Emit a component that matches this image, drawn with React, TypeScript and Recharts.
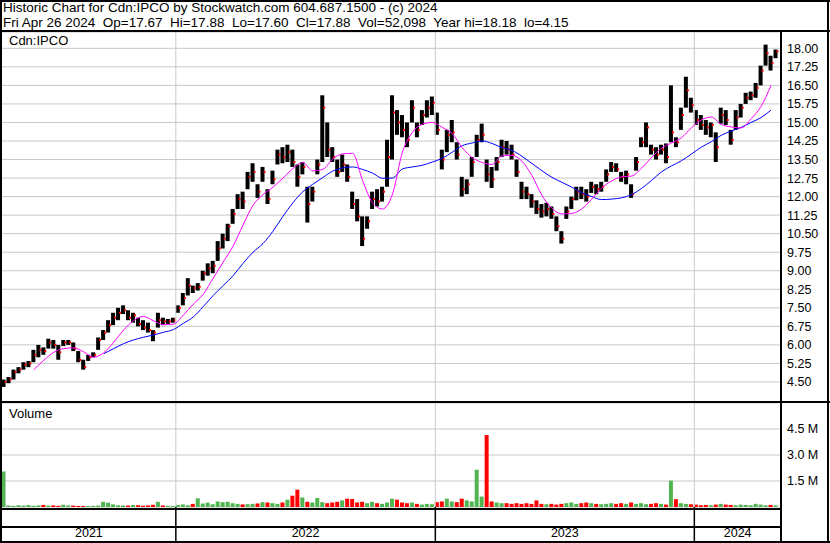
import React from "react";
import { ComposedChart, Bar, Line, XAxis, YAxis, CartesianGrid, ReferenceLine, Cell } from "recharts";

// weekly samples (week 0 = end of April 2021)
const years = ["2021", "2022", "2023", "2024"];
const yearStarts = [34.5, 86.6, 138.6];
const weekDomain: [number, number] = [-0.4, 156];

const hi21 = [4.6, 4.7, 5.0, 5.1, 5.3, 5.35, 5.8, 6.0, 5.9, 6.25, 6.2, 6.0, 6.2, 6.2, 6.1, 5.75, 5.4, 5.6, 5.7, 6.3, 6.6, 7.0, 7.3, 7.5, 7.6, 7.4, 7.3, 7.1, 7.0, 6.9, 6.6, 7.3, 7.1, 7.05, 7.1];
const lo21 = [4.3, 4.45, 4.6, 4.85, 5.0, 5.1, 5.3, 5.5, 5.6, 5.85, 5.85, 5.4, 5.95, 6.0, 5.75, 5.3, 5.0, 5.35, 5.5, 5.8, 6.2, 6.5, 6.8, 7.0, 7.25, 7.0, 6.9, 6.75, 6.6, 6.5, 6.15, 6.7, 6.8, 6.85, 6.9];
const cl21 = [4.5, 4.6, 4.9, 5.0, 5.2, 5.25, 5.6, 5.8, 5.75, 6.1, 6.0, 5.7, 6.1, 6.1, 5.85, 5.4, 5.1, 5.5, 5.6, 6.2, 6.5, 6.8, 7.1, 7.3, 7.4, 7.1, 7.2, 6.85, 6.7, 6.6, 6.5, 7.0, 6.95, 6.95, 7.0];

const hi22 = [7.6, 8.1, 8.7, 8.4, 8.5, 9.0, 9.3, 9.4, 10.2, 10.5, 10.9, 11.5, 12.1, 12.2, 13.0, 13.35, 12.5, 13.2, 12.3, 13.05, 13.9, 14.0, 14.1, 13.9, 13.3, 13.4, 12.4, 12.4, 13.5, 16.1, 15.0, 14.0, 13.5, 13.7, 13.3, 12.2, 11.9, 11.2, 11.2, 12.2, 12.3, 12.4, 14.3, 16.1, 15.5, 15.3, 15.0, 15.9, 15.0, 15.5, 15.9, 16.05];
const lo22 = [7.3, 7.6, 8.0, 8.1, 8.2, 8.6, 8.8, 8.9, 9.4, 9.9, 10.2, 10.9, 11.5, 11.5, 12.3, 12.6, 11.95, 12.6, 11.7, 12.5, 13.3, 13.35, 13.4, 13.2, 12.4, 12.9, 10.95, 11.8, 12.9, 13.4, 13.6, 13.4, 12.8, 13.0, 12.6, 11.5, 11.0, 10.0, 10.7, 11.5, 11.6, 11.8, 12.4, 13.5, 14.5, 14.4, 14.0, 15.0, 14.4, 14.9, 15.2, 15.3];
const cl22 = [7.5, 7.9, 8.4, 8.3, 8.35, 8.9, 9.1, 9.2, 9.9, 10.3, 10.8, 11.3, 11.9, 11.8, 12.8, 13.0, 12.2, 13.0, 11.9, 12.7, 13.7, 13.6, 13.8, 13.4, 12.8, 13.2, 11.7, 12.2, 13.3, 15.6, 13.9, 13.6, 13.0, 13.3, 12.8, 11.7, 11.2, 10.3, 11.0, 11.9, 11.8, 12.2, 13.6, 15.4, 15.0, 14.7, 14.3, 15.6, 14.7, 15.3, 15.6, 15.8];

const hi23 = [15.4, 13.9, 14.7, 15.1, 14.2, 12.8, 12.7, 13.6, 14.5, 14.95, 13.5, 13.2, 13.6, 14.3, 14.25, 14.1, 13.5, 12.6, 12.4, 12.1, 11.85, 11.7, 11.75, 11.6, 11.2, 10.6, 11.6, 12.0, 12.4, 12.4, 12.3, 12.6, 12.5, 12.6, 13.1, 13.4, 13.35, 13.0, 13.05, 12.5, 13.6, 14.4, 15.0, 14.1, 14.0, 14.1, 14.15, 16.5, 14.4, 15.6, 16.85, 16.0];
const lo23 = [14.5, 13.1, 13.8, 14.2, 13.5, 12.0, 12.1, 12.8, 13.6, 14.2, 12.6, 12.35, 13.05, 13.6, 13.7, 13.5, 12.8, 11.9, 11.9, 11.55, 11.3, 11.15, 11.2, 11.1, 10.6, 10.1, 11.1, 11.5, 11.85, 11.9, 11.8, 12.15, 12.1, 12.2, 12.6, 13.0, 13.0, 12.6, 12.5, 11.95, 13.05, 14.0, 14.0, 13.7, 13.5, 13.7, 13.35, 14.2, 14.0, 14.7, 15.6, 15.4];
const cl23 = [14.7, 13.5, 14.5, 14.6, 13.7, 12.3, 12.5, 13.4, 14.3, 14.5, 12.9, 12.7, 13.4, 14.0, 13.9, 13.7, 13.0, 12.2, 12.1, 11.8, 11.5, 11.4, 11.5, 11.3, 10.8, 10.3, 11.4, 11.9, 12.2, 12.1, 12.0, 12.4, 12.3, 12.4, 12.9, 13.2, 13.1, 12.8, 12.9, 12.1, 13.4, 14.2, 14.8, 13.9, 13.7, 13.9, 13.6, 14.6, 14.2, 15.3, 16.3, 15.7];

const hi24 = [15.5, 15.3, 15.1, 15.0, 14.6, 15.6, 15.5, 14.7, 15.5, 15.75, 16.2, 16.25, 16.6, 17.3, 18.15, 17.7, 17.95];
const lo24 = [14.9, 14.7, 14.5, 14.4, 13.4, 14.95, 14.9, 14.1, 14.7, 15.2, 15.75, 15.9, 16.0, 16.5, 17.3, 17.1, 17.6];
const cl24 = [15.1, 14.9, 14.8, 14.9, 14.0, 15.3, 15.1, 14.3, 15.2, 15.6, 16.0, 16.1, 16.4, 17.1, 17.8, 17.4, 17.88];

// volume, thousands of shares
const vol21 = [2050, 90, 70, 100, 80, 110, 70, 90, 120, 80, 90, 70, 130, 90, 80, 60, 60, 60, 70, 80, 300, 250, 150, 100, 90, 80, 120, 100, 70, 90, 130, 300, 90, 70, 60];
const vol22 = [120, 150, 100, 180, 500, 200, 250, 160, 320, 280, 300, 220, 180, 150, 160, 180, 200, 280, 260, 220, 180, 260, 420, 650, 1000, 550, 300, 260, 520, 280, 220, 260, 300, 380, 480, 460, 260, 300, 220, 300, 220, 180, 260, 480, 420, 260, 220, 260, 180, 140, 180, 160];
const vol23 = [280, 320, 480, 320, 280, 480, 380, 320, 2150, 600, 4150, 320, 260, 220, 220, 180, 220, 180, 220, 180, 380, 180, 160, 180, 140, 180, 220, 260, 180, 220, 260, 220, 180, 160, 180, 220, 180, 220, 180, 260, 180, 220, 160, 180, 220, 180, 140, 1520, 450, 220, 180, 160];
const vol24 = [140, 100, 120, 100, 140, 180, 140, 120, 100, 140, 120, 100, 180, 140, 100, 120, 90];

// moving averages, one reading every 2 weeks
const maFastFrom = 6;
const maFast = [5.0, 5.38, 5.7, 5.85, 5.88, 5.72, 5.5, 5.68, 6.1, 6.6, 6.98, 7.15, 6.98, 6.82, 6.84, 7.2, 7.65, 8.05, 8.7, 9.35, 10.0, 10.85, 11.65, 12.08, 12.38, 12.75, 13.13, 13.38, 13.04, 13.1, 13.52, 13.73, 13.75, 12.65, 11.75, 11.5, 12.1, 13.8, 14.6, 14.93, 15.0, 14.8, 14.55, 13.98, 13.58, 13.38, 13.3, 13.65, 13.67, 13.43, 12.85, 12.05, 11.53, 11.3, 11.32, 11.5, 11.9, 12.35, 12.63, 12.8, 12.83, 13.15, 13.58, 13.96, 14.17, 14.38, 14.78, 15.1, 15.22, 14.92, 14.82, 14.78, 15.15, 15.65, 16.5];
const maSlowFrom = 20;
const maSlow = [5.64, 5.85, 6.05, 6.2, 6.31, 6.4, 6.51, 6.62, 6.87, 7.13, 7.55, 8.0, 8.4, 8.8, 9.3, 9.75, 10.1, 10.6, 11.2, 11.75, 12.2, 12.5, 12.77, 13.03, 13.16, 13.2, 13.1, 12.95, 12.74, 12.75, 13.12, 13.2, 13.27, 13.4, 13.55, 13.8, 14.06, 14.17, 14.25, 14.15, 13.98, 13.87, 13.63, 13.34, 13.05, 12.78, 12.58, 12.38, 12.16, 12.0, 11.88, 11.9, 11.95, 12.08, 12.33, 12.65, 13.0, 13.24, 13.45, 13.72, 14.0, 14.22, 14.48, 14.65, 14.8, 15.0, 15.2, 15.5];

const priceTicks = [4.5, 5.25, 6, 6.75, 7.5, 8.25, 9, 9.75, 10.5, 11.25, 12, 12.75, 13.5, 14.25, 15, 15.75, 16.5, 17.25, 18];
const volTicks = [1500000, 3000000, 4500000];

const hi = [...hi21, ...hi22, ...hi23, ...hi24];
const lo = [...lo21, ...lo22, ...lo23, ...lo24];
const cl = [...cl21, ...cl22, ...cl23, ...cl24];
const vol = [...vol21, ...vol22, ...vol23, ...vol24];

const pick = (arr: number[], from: number, i: number) =>
  i >= from && (i - from) % 2 === 0 && (i - from) / 2 < arr.length ? arr[(i - from) / 2] : null;

const rows = hi.map((h, i) => ({
  i,
  range: [lo[i], h],
  hi: h,
  lo: lo[i],
  cl: cl[i],
  vol: vol[i] * 1000,
  up: i === 0 || cl[i] >= cl[i - 1],
  fast: pick(maFast, maFastFrom, i),
  slow: pick(maSlow, maSlowFrom, i),
}));

const yearMids = [weekDomain[0], ...yearStarts].map((s, k, a) => {
  const e = k < a.length - 1 ? a[k + 1] : weekDomain[1];
  return (s + e) / 2;
});

const FONT = '"Liberation Sans", Arial, sans-serif';
const GRID = "#c8c8c8";

function PriceBar(props: any) {
  const { x, y, width, height, payload } = props;
  const top = height < 0 ? y + height : y;
  const h = Math.max(Math.abs(height), 1);
  const cx = x + width / 2;
  const span = payload.hi - payload.lo || 1;
  const cy = top + ((payload.hi - payload.cl) / span) * h;
  return (
    <g>
      <rect x={cx - 2} y={top} width={4} height={h} fill="#000" />
      <rect x={cx + 1} y={cy - 1} width={2} height={2} fill="#ff0000" />
    </g>
  );
}

function YearTick(props: any) {
  const { x, y, payload } = props;
  const v = payload.value;
  if (yearStarts.indexOf(v) >= 0) {
    return <rect x={x - 0.75} y={y} width={1.5} height={34} fill="#000" />;
  }
  const k = yearMids.indexOf(v);
  return (
    <text x={x} y={y + 30} textAnchor="middle" fontSize={12.5} fontFamily={FONT} fill="#000">
      {years[k]}
    </text>
  );
}

const line = (left: number, top: number, width: number, height: number) => (
  <div style={{ position: "absolute", left, top, width, height, background: "#000" }} />
);

const textStyle: React.CSSProperties = { position: "absolute", fontSize: 13, lineHeight: "14px", color: "#000", whiteSpace: "pre" };
const tickStyle = { fontSize: 12.5, fill: "#000", fontFamily: FONT, textAnchor: "start" };

export default function App() {
  return (
    <div style={{ position: "absolute", left: 0, top: 0, width: 830, height: 543, background: "#fff", fontFamily: FONT, overflow: "hidden" }}>
      <div style={{ ...textStyle, fontSize: 13.5, left: 3, top: 1 }}>Historic Chart for Cdn:IPCO by Stockwatch.com 604.687.1500 - (c) 2024</div>
      <div style={{ ...textStyle, fontSize: 13.5, left: 3, top: 15.5 }}>
        {"Fri Apr 26 2024  Op=17.67  Hi=17.88  Lo=17.60  Cl=17.88  Vol=52,098  Year hi=18.18  lo=4.15"}
      </div>

      <div style={{ position: "absolute", left: 0, top: 32 }}>
        <ComposedChart width={830} height={370} data={rows} margin={{ top: 0, right: 0, bottom: 0, left: 2 }}>
          <CartesianGrid vertical={false} stroke={GRID} />
          <XAxis type="number" dataKey="i" domain={weekDomain} hide allowDataOverflow />
          <YAxis
            orientation="right"
            domain={[3.69, 18.66]}
            ticks={priceTicks}
            interval={0}
            width={49}
            axisLine={false}
            tickLine={false}
            tickSize={4}
            tickMargin={2}
            allowDataOverflow
            tickFormatter={(v: number) => v.toFixed(2)}
            tick={tickStyle}
          />
          {yearStarts.map((s) => (
            <ReferenceLine key={s} x={s} stroke={GRID} />
          ))}
          <Bar dataKey="range" barSize={4} shape={<PriceBar />} isAnimationActive={false} />
          <Line dataKey="slow" type="monotone" stroke="#0000ff" strokeWidth={1} dot={false} connectNulls isAnimationActive={false} />
          <Line dataKey="fast" type="monotone" stroke="#ff00ff" strokeWidth={1} dot={false} connectNulls isAnimationActive={false} />
        </ComposedChart>
        <div style={{ ...textStyle, left: 9, top: 2 }}>Cdn:IPCO</div>
      </div>

      <div style={{ position: "absolute", left: 0, top: 403 }}>
        <ComposedChart width={830} height={140} data={rows} margin={{ top: 0, right: 0, bottom: 0, left: 2 }}>
          <CartesianGrid vertical={false} stroke={GRID} />
          <XAxis
            type="number"
            dataKey="i"
            domain={weekDomain}
            ticks={[...yearStarts, ...yearMids]}
            interval={0}
            height={36}
            axisLine={false}
            tickLine={false}
            tickSize={0}
            tickMargin={0}
            tick={<YearTick />}
            allowDataOverflow
          />
          <YAxis
            orientation="right"
            domain={[0, 6000000]}
            ticks={volTicks}
            interval={0}
            width={49}
            axisLine={false}
            tickLine={false}
            tickSize={4}
            tickMargin={2}
            allowDataOverflow
            tickFormatter={(v: number) => (v / 1000000).toFixed(1) + " M"}
            tick={tickStyle}
          />
          {yearStarts.map((s) => (
            <ReferenceLine key={s} x={s} stroke={GRID} />
          ))}
          <Bar dataKey="vol" barSize={4} isAnimationActive={false}>
            {rows.map((r) => (
              <Cell key={r.i} fill={r.up ? "#50b450" : "#ff0000"} />
            ))}
          </Bar>
        </ComposedChart>
        <div style={{ ...textStyle, left: 9, top: 3.5 }}>Volume</div>
      </div>

      {line(0, 0, 830, 2)}
      {line(0, 0, 2, 543)}
      {line(827, 0, 2, 543)}
      {line(0, 30, 830, 2)}
      {line(0, 401, 830, 2)}
      {line(780, 32, 2, 511)}
      {line(0, 508, 781, 2)}
      {line(0, 526, 781, 2)}
      {line(0, 541, 830, 2)}
    </div>
  );
}
